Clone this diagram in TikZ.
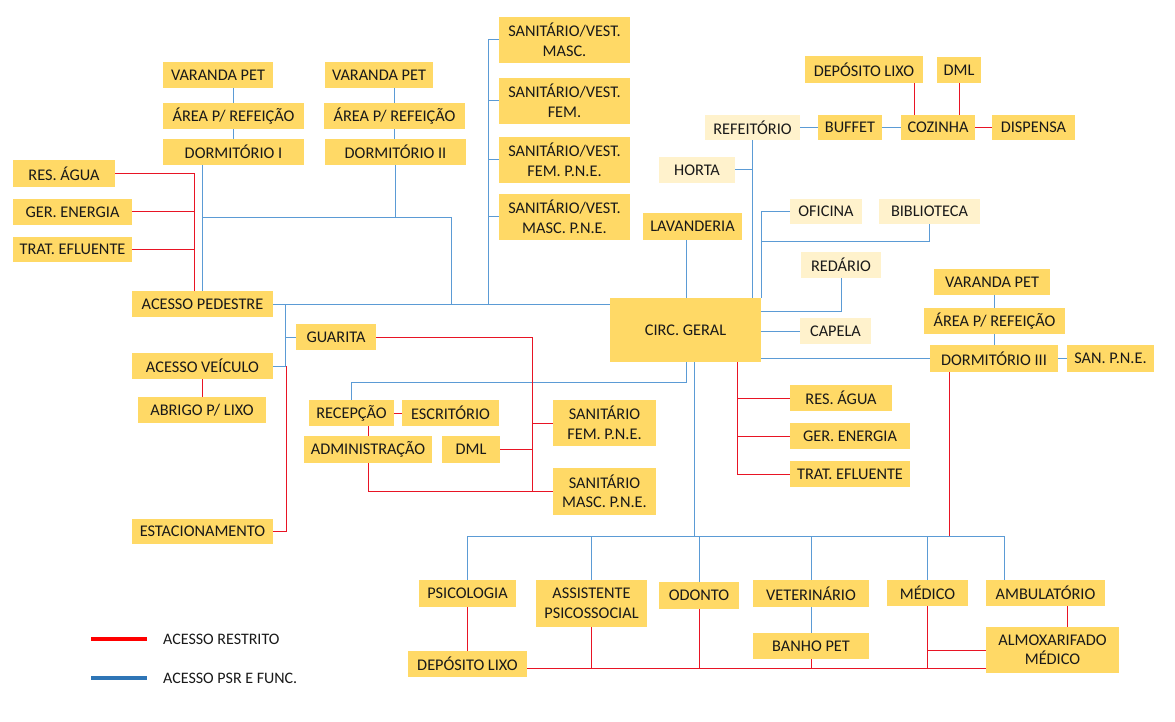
\documentclass[tikz,border=0pt]{standalone}
\usepackage{fontspec}
\setmainfont{Carlito}
\definecolor{boxY}{RGB}{255,217,102}
\definecolor{boxL}{RGB}{255,242,204}
\definecolor{lnB}{RGB}{91,155,213}
\definecolor{lnR}{RGB}{232,20,36}
\definecolor{legB}{RGB}{46,117,182}
\definecolor{legR}{RGB}{255,0,0}
\definecolor{txt}{RGB}{25,25,25}
\tikzset{
  box/.style={fill=boxY, inner sep=0pt, align=center, text=txt,
    font=\fontsize{16.3}{19.5}\selectfont},
  lbox/.style={fill=boxL},
  psr/.style={draw=lnB, line width=1pt},
  rst/.style={draw=lnR, line width=1pt},
  legtxt/.style={inner sep=0pt, anchor=west, text=txt, font=\fontsize{16}{18}\selectfont},
}
\newcommand\bx[7][]{\node[box,#1,minimum width={(#5-#3)*1pt},minimum height={(#6-#4)*1pt}] (#2) at ({(#3+#5)/2},{(#4+#6)/2}) {#7};}
\begin{document}
\begin{tikzpicture}[x=1pt,y=-1pt]
\useasboundingbox[fill=white] (0,0) rectangle (1175,722);
% ---------- nodes ----------
\bx{varI}{163}{62}{273}{88}{VARANDA PET}
\bx{areaI}{163}{103}{304}{129}{ÁREA P/ REFEIÇÃO}
\bx{dormI}{163}{139}{304}{165}{DORMITÓRIO I}
\bx{varII}{325}{62}{433}{88}{VARANDA PET}
\bx{areaII}{324}{103}{465}{129}{ÁREA P/ REFEIÇÃO}
\bx{dormII}{325}{139}{466}{165}{DORMITÓRIO II}
\bx{resL}{13}{160}{115}{187}{RES. ÁGUA}
\bx{gerL}{13}{199}{132}{225}{GER. ENERGIA}
\bx{tratL}{13}{237}{132}{262}{TRAT. EFLUENTE}
\bx{acPed}{132}{291}{273}{317}{ACESSO PEDESTRE}
\bx{acVei}{132}{353}{273}{379}{ACESSO VEÍCULO}
\bx{abrigo}{138}{397}{266}{423}{ABRIGO P/ LIXO}
\bx{estac}{132}{519}{273}{544}{ESTACIONAMENTO}
\bx{guarita}{296}{324}{376}{350}{GUARITA}
\bx{recep}{309}{400}{394}{426}{RECEPÇÃO}
\bx{escrit}{402}{400}{499}{426}{ESCRITÓRIO}
\bx{admin}{304}{436}{432}{463}{ADMINISTRAÇÃO}
\bx{dmlA}{442}{436}{500}{463}{DML}
\bx{sanFP}{553}{400}{656}{446}{SANITÁRIO\\FEM. P.N.E.}
\bx{sanMP}{553}{468}{656}{515}{SANITÁRIO\\MASC. P.N.E.}
\bx{svM}{499}{17}{630}{63}{SANITÁRIO/VEST.\\MASC.}
\bx{svF}{499}{78}{630}{124}{SANITÁRIO/VEST.\\FEM.}
\bx{svFP}{499}{137}{630}{183}{SANITÁRIO/VEST.\\FEM. P.N.E.}
\bx{svMP}{499}{194}{630}{240}{SANITÁRIO/VEST.\\MASC. P.N.E.}
\bx{lav}{643}{213}{742}{240}{LAVANDERIA}
\bx{circ}{610}{298}{761}{362}{CIRC. GERAL}
\bx[lbox]{refeit}{705}{115}{800}{140}{REFEITÓRIO}
\bx{buffet}{818}{115}{882}{140}{BUFFET}
\bx{coz}{901}{115}{975}{140}{COZINHA}
\bx{disp}{992}{115}{1075}{140}{DISPENSA}
\bx{depT}{805}{56}{923}{83}{DEPÓSITO LIXO}
\bx{dmlT}{937}{57}{981}{83}{DML}
\bx[lbox]{horta}{659}{157}{735}{183}{HORTA}
\bx[lbox]{ofic}{790}{199}{862}{224}{OFICINA}
\bx[lbox]{biblio}{879}{199}{980}{224}{BIBLIOTECA}
\bx[lbox]{redario}{801}{252}{881}{278}{REDÁRIO}
\bx[lbox]{capela}{800}{318}{871}{344}{CAPELA}
\bx{varIII}{934}{269}{1050}{295}{VARANDA PET}
\bx{areaIII}{924}{308}{1065}{334}{ÁREA P/ REFEIÇÃO}
\bx{dormIII}{930}{345}{1058}{372}{DORMITÓRIO III}
\bx{sanpne}{1067}{345}{1154}{372}{SAN. P.N.E.}
\bx{resR}{790}{385}{892}{411}{RES. ÁGUA}
\bx{gerR}{790}{423}{910}{449}{GER. ENERGIA}
\bx{tratR}{790}{461}{910}{487}{TRAT. EFLUENTE}
\bx{psico}{419}{580}{516}{607}{PSICOLOGIA}
\bx{assist}{536}{580}{647}{627}{ASSISTENTE\\PSICOSSOCIAL}
\bx{odonto}{659}{582}{739}{609}{ODONTO}
\bx{vet}{753}{580}{869}{607}{VETERINÁRIO}
\bx{medico}{887}{580}{968}{606}{MÉDICO}
\bx{ambul}{986}{580}{1105}{606}{AMBULATÓRIO}
\bx{banho}{753}{633}{869}{659}{BANHO PET}
\bx{almox}{986}{627}{1119}{673}{ALMOXARIFADO\\MÉDICO}
\bx{depB}{408}{651}{527}{677}{DEPÓSITO LIXO}
% ---------- junction coordinates ----------
\coordinate (jD) at (451,218);
\coordinate (jS) at (488,0);
\coordinate (jV) at (285,0);
\coordinate (xl) at (686,0);
\coordinate (yB) at (0,241);
\coordinate (yR) at (0,311);
\coordinate (yRc) at (0,382);
\coordinate (xb) at (694,0);
\coordinate (yBus) at (0,536);
\coordinate (ambx) at (1004.5,0);
\coordinate (xr1) at (194,0);
\coordinate (xr2) at (286,0);
\coordinate (xr3) at (532.5,0);
\coordinate (xr4) at (737.5,0);
\coordinate (xdp) at (914.7,0);
\coordinate (xd3) at (949.6,0);
\coordinate (yL) at (0,668);
\coordinate (xam) at (1067,0);
% ---------- blue connectors ----------
\draw[psr] (varI.south -| areaI.north) -- (areaI.north);
\draw[psr] (areaI.south) -- (areaI.south |- dormI.north);
\draw[psr] (varII.south -| areaII.north) -- (areaII.north);
\draw[psr] (areaII.south) -- (areaII.south |- dormII.north);
\draw[psr] (dormI.south -| acPed.north) -- (acPed.north);
\draw[psr] (acPed.north |- jD) -- (jD) -- (jD |- acPed.east);
\draw[psr] (dormII.south) -- (dormII.south |- jD);
\draw[psr] (acPed.east) -- (acPed.east -| circ.west);
\draw[psr] (svM.west) -- (svM.west -| jS) -- (jS |- acPed.east);
\draw[psr] (svF.west) -- (svF.west -| jS);
\draw[psr] (svFP.west) -- (svFP.west -| jS);
\draw[psr] (svMP.west) -- (svMP.west -| jS);
\draw[psr] (jV |- acPed.east) -- (jV |- acVei.east) -- (acVei.east);
\draw[psr] (guarita.west) -- (guarita.west -| jV);
\draw[psr] (lav.south -| xl) -- (circ.north -| xl);
\draw[psr] (refeit.south) -- (refeit.south |- circ.north);
\draw[psr] (horta.east) -- (horta.east -| refeit.south);
\draw[psr] (refeit.east) -- (buffet.west);
\draw[psr] (buffet.east) -- (coz.west);
\draw[psr] (ofic.west) -- (ofic.west -| circ.north east) -- (circ.north east);
\draw[psr] (biblio.south) -- (biblio.south |- yB) -- (circ.east |- yB);
\draw[psr] (redario.south) -- (redario.south |- yR) -- (circ.east |- yR);
\draw[psr] (circ.east |- capela.west) -- (capela.west);
\draw[psr] (circ.east |- dormIII.west) -- (dormIII.west);
\draw[psr] (varIII.south -| areaIII.north) -- (areaIII.north);
\draw[psr] (areaIII.south) -- (areaIII.south |- dormIII.north);
\draw[psr] (dormIII.east) -- (sanpne.west);
\draw[psr] (circ.south -| xl) -- (xl |- yRc) -- (recep.north |- yRc) -- (recep.north);
\draw[psr] (circ.south -| xb) -- (xb |- yBus);
\draw[psr] (psico.north |- yBus) -- (ambx |- yBus);
\draw[psr] (psico.north |- yBus) -- (psico.north);
\draw[psr] (assist.north |- yBus) -- (assist.north);
\draw[psr] (odonto.north |- yBus) -- (odonto.north);
\draw[psr] (vet.north |- yBus) -- (vet.north);
\draw[psr] (medico.north |- yBus) -- (medico.north);
\draw[psr] (ambx |- yBus) -- (ambx |- ambul.north);
\draw[psr] (vet.south) -- (vet.south |- banho.north);
% ---------- red connectors ----------
\draw[rst] (resL.east) -- (resL.east -| xr1) -- (xr1 |- acPed.north);
\draw[rst] (gerL.east) -- (gerL.east -| xr1);
\draw[rst] (tratL.east) -- (tratL.east -| xr1);
\draw[rst] (acVei.south) -- (acVei.south |- abrigo.north);
\draw[rst] (estac.east) -- (estac.east -| xr2) -- (xr2 |- acVei.east);
\draw[rst] (guarita.east) -- (guarita.east -| xr3) -- (xr3 |- sanMP.west);
\draw[rst] (recep.east) -- (escrit.west);
\draw[rst] (recep.south -| admin.north) -- (admin.north);
\draw[rst] (dmlA.east) -- (dmlA.east -| xr3);
\draw[rst] (sanFP.west) -- (sanFP.west -| xr3);
\draw[rst] (admin.south) -- (admin.south |- sanMP.west) -- (sanMP.west);
\draw[rst] (circ.south -| xr4) -- (xr4 |- tratR.west) -- (tratR.west);
\draw[rst] (resR.west) -- (resR.west -| xr4);
\draw[rst] (gerR.west) -- (gerR.west -| xr4);
\draw[rst] (depT.south -| xdp) -- (coz.north -| xdp);
\draw[rst] (dmlT.south) -- (dmlT.south |- coz.north);
\draw[rst] (coz.east) -- (disp.west);
\draw[rst] (dormIII.south -| xd3) -- (xd3 |- yBus);
\draw[rst] (psico.south) -- (psico.south |- depB.north);
\draw[rst] (depB.east |- yL) -- (almox.west |- yL);
\draw[rst] (assist.south) -- (assist.south |- yL);
\draw[rst] (odonto.south) -- (odonto.south |- yL);
\draw[rst] (banho.south) -- (banho.south |- yL);
\draw[rst] (medico.south) -- (medico.south |- yL);
\draw[rst] (medico.south |- almox.west) -- (almox.west);
\draw[rst] (ambul.south -| xam) -- (almox.north -| xam);
% ---------- legend ----------
\coordinate (lr1) at (91,639);
\coordinate (lr2) at (147,639);
\coordinate (lb1) at (91,678);
\coordinate (lb2) at (147,678);
\draw[legR, line width=4pt] (lr1) -- (lr2);
\draw[legB, line width=4pt] (lb1) -- (lb2);
\node[legtxt] (ltR) at (163,639) {ACESSO RESTRITO};
\node[legtxt] (ltB) at (163,678) {ACESSO PSR E FUNC.};
\end{tikzpicture}
\end{document}
